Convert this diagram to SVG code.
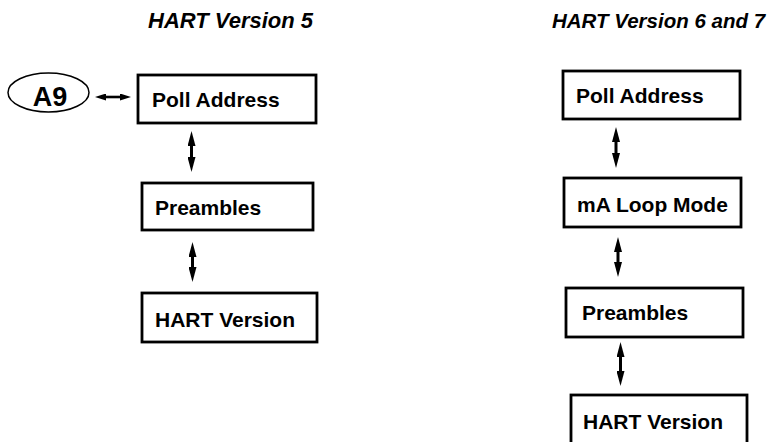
<svg xmlns="http://www.w3.org/2000/svg" width="772" height="442" viewBox="0 0 772 442">
<defs>
<style>
.box{fill:#fff;stroke:#000;stroke-width:2.8}
.lbl{font-family:"Liberation Sans",Arial,sans-serif;font-weight:bold;font-size:21px;fill:#000}
.ttl{font-family:"Liberation Sans",Arial,sans-serif;font-weight:bold;font-style:italic;font-size:20.5px;fill:#000}
.conn{stroke:#000;stroke-width:3;fill:none;marker-start:url(#ah);marker-end:url(#ah)}
.connh{stroke:#000;stroke-width:2.6;fill:none;marker-start:url(#ahs);marker-end:url(#ahs)}
</style>
<marker id="ah" viewBox="0 0 15 8" refX="0" refY="4" markerWidth="15" markerHeight="8" markerUnits="userSpaceOnUse" orient="auto-start-reverse"><path d="M0,0 L15,4 L0,8 z" fill="#000"/></marker>
<marker id="ahs" viewBox="0 0 11 7" refX="0" refY="3.5" markerWidth="11" markerHeight="7" markerUnits="userSpaceOnUse" orient="auto-start-reverse"><path d="M0,0 L11,3.5 L0,7 z" fill="#000"/></marker>
</defs>
<rect width="772" height="442" fill="#fff"/>
<text class="ttl" x="148" y="28" style="font-size:22px">HART Version 5</text>
<text class="ttl" x="552" y="28">HART Version 6 and 7</text>
<g id="a9">
<ellipse cx="48.5" cy="92.5" rx="40.5" ry="19.5" fill="#fff" stroke="#000" stroke-width="1.5"/>
<text class="lbl" x="50" y="105.5" text-anchor="middle" style="font-size:27px">A9</text>
</g>
<g id="l-poll"><rect class="box" x="138" y="75" width="178" height="48"/><text class="lbl" x="152" y="106.5">Poll Address</text></g>
<g id="l-pre"><rect class="box" x="142" y="183" width="171" height="47"/><text class="lbl" x="155" y="215">Preambles</text></g>
<g id="l-hart"><rect class="box" x="142" y="293" width="175" height="49"/><text class="lbl" x="155" y="326.5">HART Version</text></g>
<g id="r-poll"><rect class="box" x="563" y="71" width="177" height="48"/><text class="lbl" x="576" y="102.5">Poll Address</text></g>
<g id="r-ma"><rect class="box" x="564" y="178" width="177" height="49"/><text class="lbl" x="577" y="211.5">mA Loop Mode</text></g>
<g id="r-pre"><rect class="box" x="566" y="288" width="177" height="49"/><text class="lbl" x="582" y="320">Preambles</text></g>
<g id="r-hart"><rect class="box" x="571" y="395" width="176" height="52"/><text class="lbl" x="583" y="428.5">HART Version</text></g>
<g id="connectors">
<line class="connh" x1="106" y1="97" x2="120" y2="97"/>
<line class="conn" x1="191.5" y1="146" x2="191.5" y2="157"/>
<line class="conn" x1="192.5" y1="257" x2="192.5" y2="267"/>
<line class="conn" x1="616" y1="142" x2="616" y2="153"/>
<line class="conn" x1="618" y1="252" x2="618" y2="262"/>
<line class="conn" x1="620.5" y1="357" x2="620.5" y2="371"/>
</g>
</svg>
